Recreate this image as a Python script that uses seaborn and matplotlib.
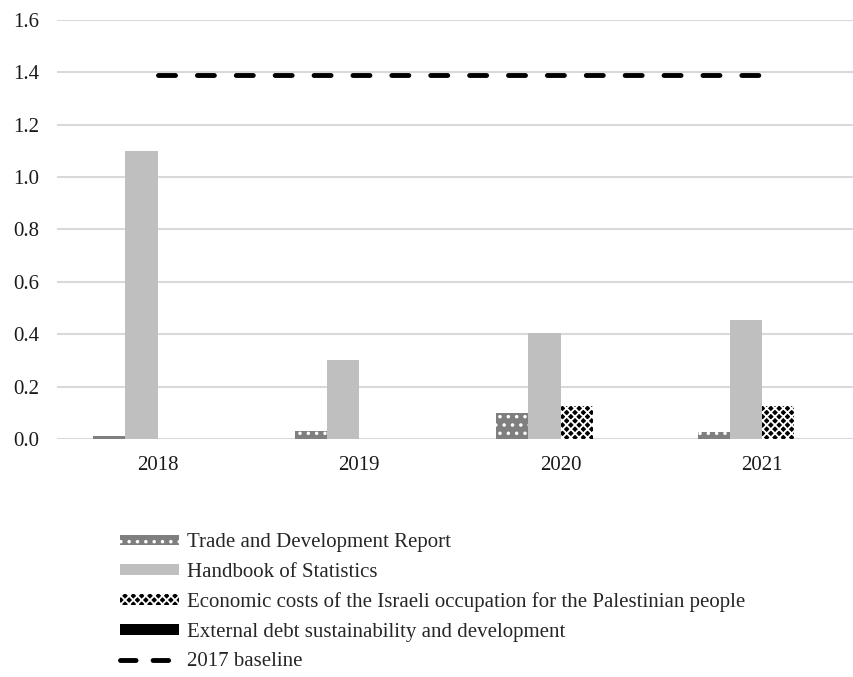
import numpy as np
import pandas as pd
import seaborn as sns
import matplotlib.pyplot as plt
from matplotlib.patches import Patch
from matplotlib.lines import Line2D

years = ["2018", "2019", "2020", "2021"]
trade_dev = [0.01, 0.03, 0.10, 0.025]
handbook = [1.10, 0.30, 0.405, 0.455]
econ_costs = [0.0, 0.0, 0.125, 0.125]
ext_debt = [0.0, 0.0, 0.0, 0.0]
baseline = [1.39, 1.39, 1.39, 1.39]

series = ["Trade and Development Report", "Handbook of Statistics",
          "Economic costs of the Israeli occupation for the Palestinian people",
          "External debt sustainability and development"]
values = [trade_dev, handbook, econ_costs, ext_debt]

rows = []
for name, vals in zip(series, values):
    for y, v in zip(years, vals):
        rows.append({"year": y, "series": name, "value": v})
df = pd.DataFrame(rows)

sns.set_style("white")
plt.rcParams['font.family'] = ['Liberation Serif', 'DejaVu Serif']
plt.rcParams['hatch.linewidth'] = 1.3

colors = ["#7f7f7f", "#bfbfbf", "#000000", "#000000"]
hatches = ["..", None, "xxxx", None]

fig = plt.figure(figsize=(8.54, 6.77), dpi=100)
ax = fig.add_axes([0.0667, 0.3516, 0.9438, 0.619])

sns.barplot(data=df, x="year", y="value", hue="series", hue_order=series,
            palette=colors, width=0.64, saturation=1, ax=ax, legend=False)

for cont, h, c in zip(ax.containers, hatches, colors):
    for bar in cont:
        bar.set_linewidth(0)
        if h:
            bar.set_hatch(h)
            bar.set_edgecolor("white")
        else:
            bar.set_edgecolor(c)

# 2017 baseline as dashed line across the years
ax.plot(np.arange(len(years)), baseline, color="black", lw=3.5,
        dashes=(3.5, 4.5), dash_capstyle="round", solid_capstyle="round")

ax.set_xlim(-0.5, 3.5)
ax.set_ylim(0, 1.6)
ax.set_yticks(np.arange(0, 1.61, 0.2))
ax.set_yticklabels([f"{v:.1f}" for v in np.arange(0, 1.61, 0.2)])
ax.yaxis.grid(True, color="#d9d9d9", lw=1.5)
ax.set_axisbelow(True)
sns.despine(ax=ax, left=True, bottom=True)
ax.tick_params(axis="both", length=0, labelsize=15, colors="#1a1a1a")
ax.tick_params(axis="y", pad=13)
ax.tick_params(axis="x", pad=12)
ax.set_xlabel("")
ax.set_ylabel("")

handles = [
    Patch(facecolor=colors[0], edgecolor="white", hatch="..", lw=0),
    Patch(facecolor=colors[1], edgecolor=colors[1], lw=0),
    Patch(facecolor=colors[2], edgecolor="white", hatch="xxxx", lw=0),
    Patch(facecolor=colors[3], edgecolor=colors[3], lw=0),
    Line2D([0], [0], color="black", lw=3.5, dashes=(3.2, 3.5), dash_capstyle="round"),
]
labels = series + ["2017 baseline"]
fig.legend(handles, labels, loc="upper left", bbox_to_anchor=(0.14, 0.212),
           frameon=False, fontsize=15, labelspacing=0.5, handlelength=2.85,
           handleheight=0.42, handletextpad=0.38, borderpad=0, borderaxespad=0)

fig.savefig("out.png", dpi=100)
